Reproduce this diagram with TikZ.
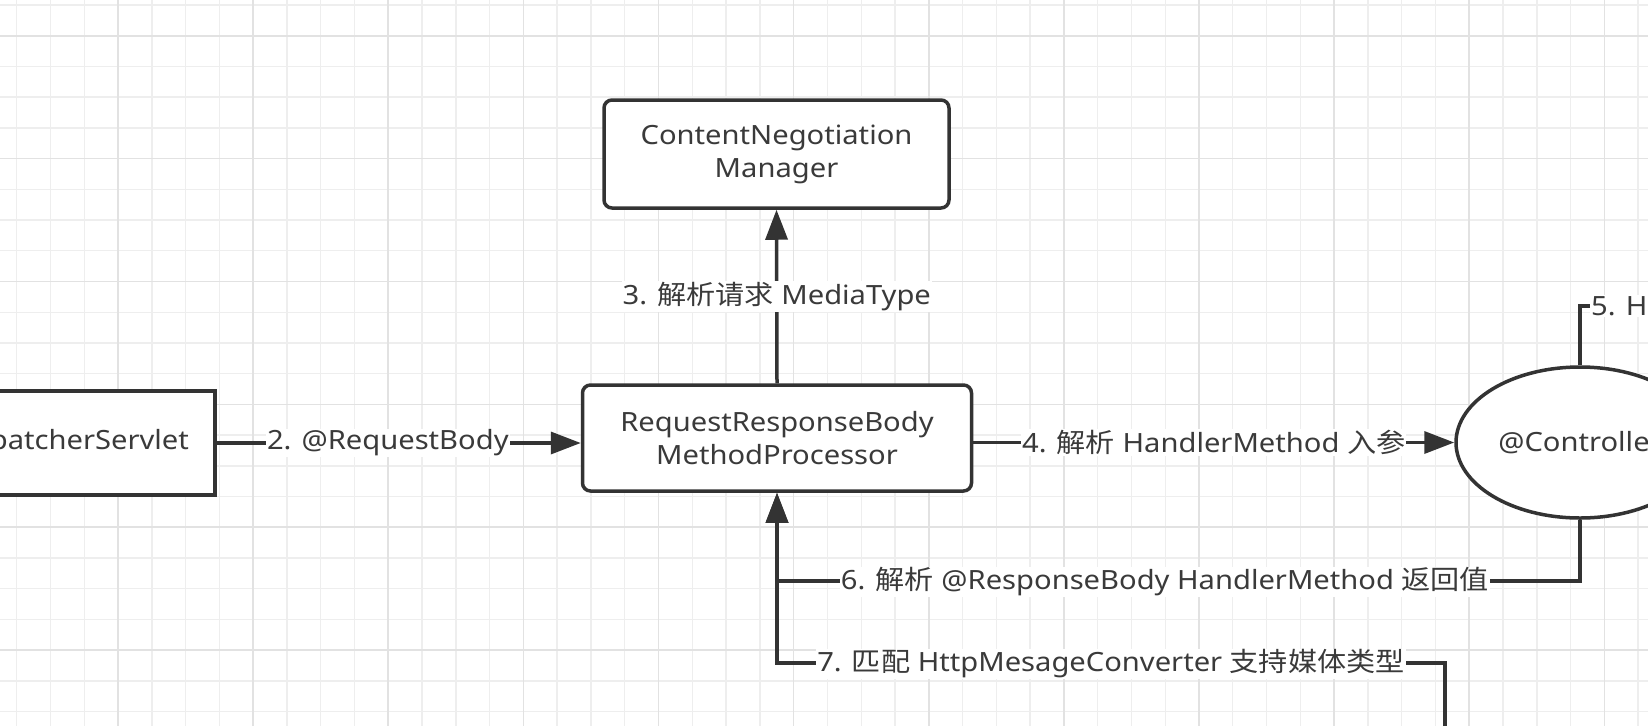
\documentclass[tikz,border=0pt]{standalone}
\usepackage{fontspec}
\setmainfont{Noto Sans}[FakeStretch=1.1]
\newfontfamily\cjk{Noto Sans CJK SC}[FakeStretch=1.1]
\usetikzlibrary{arrows.meta,shapes.geometric}
\definecolor{ink}{HTML}{333333}
\definecolor{txt}{HTML}{3A3A3A}
\definecolor{gridminor}{HTML}{EEEEEE}
\definecolor{gridmajor}{HTML}{E2E2E2}
\begin{document}
\begin{tikzpicture}[x=1pt,y=-1pt,
  font=\fontsize{26.5pt}{33pt}\selectfont, text=txt,
  rbox/.style={draw=ink, line width=3.5pt, fill=white, rounded corners=8pt, align=center, inner sep=0pt},
  sbox/.style={draw=ink, line width=3.5pt, fill=white, align=center, inner sep=0pt},
  ell/.style={ellipse, draw=ink, line width=3.5pt, fill=white, inner sep=0pt},
  conn/.style={draw=ink, line width=3.5pt, -{Triangle[length=30pt,width=22pt]}},
  plain/.style={draw=ink, line width=3.5pt},
  lbl/.style={fill=white, inner sep=1pt, text=txt}
]
\useasboundingbox (0,0) rectangle (1648,726);
\fill[white] (0,0) rectangle (1648,726);
% grid
\foreach \k in {0,...,48} {
  \pgfmathsetmacro\gx{16.7+33.78*\k}
  \draw[gridminor, line width=1.4pt] (\gx,0) -- (\gx,726);
}
\foreach \k in {0,...,23} {
  \pgfmathsetmacro\gy{5+30.72*\k}
  \draw[gridminor, line width=1.4pt] (0,\gy) -- (1648,\gy);
}
\foreach \k in {3,7,...,47} {
  \pgfmathsetmacro\gx{16.7+33.78*\k}
  \draw[gridmajor, line width=1.6pt] (\gx,0) -- (\gx,726);
}
\foreach \k in {1,5,...,21} {
  \pgfmathsetmacro\gy{5+30.72*\k}
  \draw[gridmajor, line width=1.6pt] (0,\gy) -- (1648,\gy);
}

% nodes
\node[rbox, minimum width=345pt, minimum height=108pt] (cnm) at (776.5,154) {ContentNegotiation\\Manager};
\node[rbox, minimum width=389pt, minimum height=106pt] (rr) at (777,438) {RequestResponseBody\\MethodProcessor};
\node[sbox, minimum width=294pt, minimum height=104pt] (ds) at (68,443) {DispatcherServlet};
\node[ell, minimum width=248pt, minimum height=151pt] (ctl) at (1580,442.5) {@Controller};

\coordinate (j6) at (777,581);
\coordinate (j7) at (777,663);
\coordinate (s7) at (1445,726);

% connectors
\draw[conn] (ds.east) -- node[lbl, pos=0.47] (l2) {2. @RequestBody} (ds.east -| rr.west);
\draw[conn] (rr.north) -- node[lbl] (l3) {3. {\cjk 解析请求} MediaType} (cnm.south);
\draw[conn] (rr.east |- ctl.west) -- node[lbl] (l4) {4. {\cjk 解析} HandlerMethod {\cjk 入参}} (ctl.west);
\node[lbl, anchor=west] (l5) at (1590,306) {5. Handler};
\draw[plain] (ctl.north) |- (l5.west);
\draw[conn] (ctl.south) |- (j6) -- (rr.south);
\node[lbl] (l6) at (1165,582) {6. {\cjk 解析} @ResponseBody HandlerMethod {\cjk 返回值}};
\draw[conn] (s7) |- (j7) -- (rr.south);
\node[lbl] (l7) at (1111,664) {7. {\cjk 匹配} HttpMesageConverter {\cjk 支持媒体类型}};
\end{tikzpicture}
\end{document}
